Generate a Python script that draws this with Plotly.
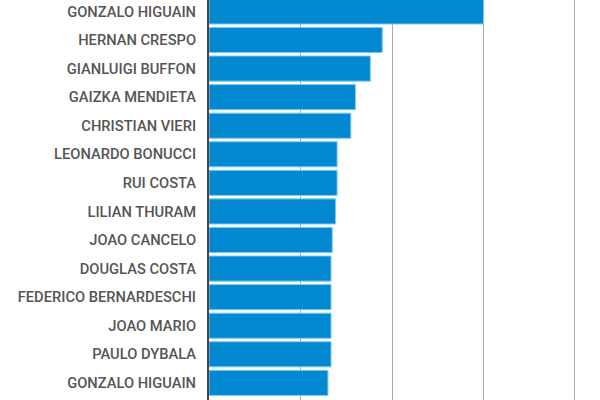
import plotly.graph_objects as go

players = ["GONZALO HIGUAIN", "HERNAN CRESPO", "GIANLUIGI BUFFON", "GAIZKA MENDIETA",
           "CHRISTIAN VIERI", "LEONARDO BONUCCI", "RUI COSTA", "LILIAN THURAM",
           "JOAO CANCELO", "DOUGLAS COSTA", "FEDERICO BERNARDESCHI", "JOAO MARIO",
           "PAULO DYBALA", "GONZALO HIGUAIN"]
fees = [90, 56.8, 52.9, 48, 46.5, 42, 42, 41.5, 40.4, 40, 40, 40, 40, 39]

pos = list(range(len(players)))

fig = go.Figure(go.Bar(
    x=fees, y=pos, orientation="h",
    marker=dict(color="#0288D1", line=dict(color="#7CCBF2", width=1)),
    width=0.88,
))
fig.update_layout(
    width=600, height=400,
    margin=dict(l=209, r=0, t=0, b=0),
    plot_bgcolor="white", paper_bgcolor="white",
    showlegend=False,
    font=dict(family="Roboto", size=14.7, color="#555555", weight=500),
)
fig.update_xaxes(range=[0, 128.2], dtick=30, tick0=0, showticklabels=False,
                 showgrid=True, gridcolor="#AAAAAA", gridwidth=1, zeroline=False,
                 showline=False)
fig.update_yaxes(range=[13.6, -0.4], tickvals=pos, ticktext=players,
                 showgrid=False, zeroline=False, showline=True, linecolor="#444444",
                 linewidth=2, ticks="", ticklabelstandoff=8)
fig.write_html("out.html", config={"displayModeBar": False},
               post_script="document.body.style.margin='0';document.body.style.overflow='hidden';")
